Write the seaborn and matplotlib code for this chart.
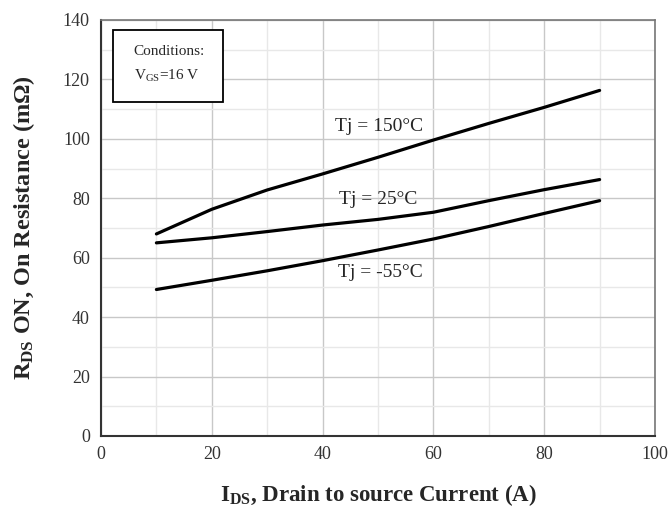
import matplotlib
matplotlib.use("Agg")
import matplotlib.pyplot as plt
import seaborn as sns
import pandas as pd
from matplotlib.ticker import MultipleLocator

current = [10, 20, 30, 40, 50, 60, 70, 80, 90]
r_150 = [68, 76.3, 82.8, 88.2, 93.8, 99.6, 105.2, 110.6, 116.3]
r_25 = [65, 66.7, 68.8, 71.0, 72.9, 75.3, 79.2, 82.9, 86.3]
r_m55 = [49.3, 52.4, 55.6, 59.0, 62.6, 66.3, 70.5, 74.9, 79.2]
series_names = ["Tj = 150°C", "Tj = 25°C", "Tj = -55°C"]

rows = []
for name, vals in zip(series_names, [r_150, r_25, r_m55]):
    for x, y in zip(current, vals):
        rows.append({"I": x, "R": y, "Tj": name})
df = pd.DataFrame(rows)

sns.set_style("white")
plt.rcParams["font.family"] = ["Liberation Serif", "DejaVu Serif"]
plt.rcParams["mathtext.fontset"] = "custom"
plt.rcParams["mathtext.rm"] = "Liberation Serif"
plt.rcParams["mathtext.bf"] = "Liberation Serif:bold"

fig = plt.figure(figsize=(6.71, 5.12), dpi=100)
ax = fig.add_axes([101 / 671, 1 - 436 / 512, 554 / 671, 416 / 512])

sns.lineplot(data=df, x="I", y="R", hue="Tj", palette=["black"] * 3,
             linewidth=2.3, legend=False, ax=ax, solid_capstyle="round")

ax.set_xlim(0, 100)
ax.set_ylim(0, 140)
ax.xaxis.set_major_locator(MultipleLocator(20))
ax.xaxis.set_minor_locator(MultipleLocator(10))
ax.yaxis.set_major_locator(MultipleLocator(20))
ax.yaxis.set_minor_locator(MultipleLocator(10))
ax.grid(True, which="major", color="#c8c8c8", linewidth=1.0)
ax.grid(True, which="minor", color="#e8e8e8", linewidth=1.0)
ax.set_axisbelow(True)

for side in ["left", "bottom"]:
    ax.spines[side].set_color("#333333")
    ax.spines[side].set_linewidth(1.5)
for side in ["top", "right"]:
    ax.spines[side].set_color("#777777")
    ax.spines[side].set_linewidth(1.2)

ax.tick_params(axis="y", which="major", direction="out", length=6, width=1.2,
               color="#333333", labelsize=13, labelcolor="#333333", pad=2)
ax.tick_params(axis="x", which="major", direction="inout", length=8, width=1.2,
               color="#333333", labelsize=13, labelcolor="#333333", pad=3)
ax.tick_params(which="minor", length=0)

ax.set_xlabel(r"$\mathbf{I_{DS}}$, Drain to source Current (A)",
              fontsize=16.5, fontweight="bold", labelpad=14)
ax.set_ylabel(r"$\mathbf{R_{DS}}$ ON, On Resistance (m$\mathbf{\Omega}$)",
              fontsize=17.5, fontweight="bold")
ax.yaxis.set_label_coords(-0.116, 0.5)

ax.text(50.2, 104, series_names[0], ha="center", va="center", fontsize=14)
ax.text(50, 79.5, series_names[1], ha="center", va="center", fontsize=14)
ax.text(50.5, 55, series_names[2], ha="center", va="center", fontsize=14)

box = plt.Rectangle((2.1, 112.5), 20, 24, transform=ax.transData,
                    facecolor="white", edgecolor="black", linewidth=1.3, zorder=3)
ax.add_patch(box)
ax.text(5.9, 129.4, "Conditions:", ha="left", va="center", fontsize=11, zorder=4)
ax.text(5.9, 121.2, r"V$_{\mathrm{GS}}$=16 V", ha="left", va="center", fontsize=11, zorder=4)

fig.savefig("out.png", dpi=100)
plt.close(fig)
